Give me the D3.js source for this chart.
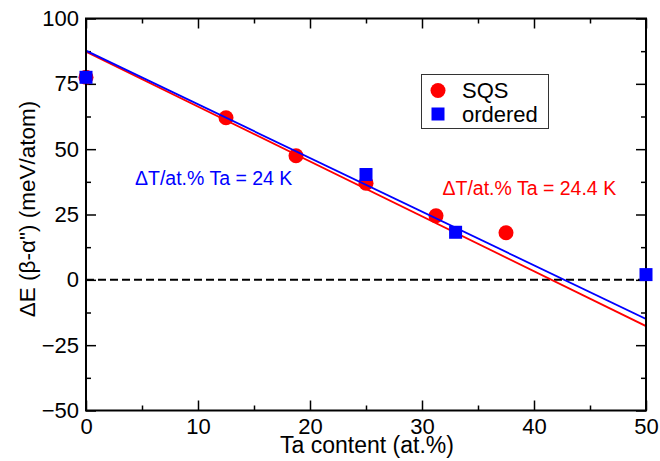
<!DOCTYPE html>
<html>
<head>
<meta charset="utf-8">
<script src="https://cdn.jsdelivr.net/npm/d3@7"></script>
<style>
  html, body { margin: 0; padding: 0; background: #fff; overflow: hidden; }
  svg { display: block; }
  text { font-family: "Liberation Sans", Arial, Helvetica, sans-serif; }
</style>
</head>
<body>
<div id="chart"></div>
<script>
// data
const sqsX = [0, 12.5, 18.75, 25, 31.25, 37.5];
const sqsY = [77.5, 62, 47.5, 37, 24.5, 18];
const orderedX = [0, 25, 33, 50];
const orderedY = [77.5, 40.3, 18.2, 2];
const fitX = [0, 50];
const sqsFit = [87.3, -17.7];
const orderedFit = [87.7, -15.0];
const xTicks = [0, 10, 20, 30, 40, 50];
const yTicks = [-50, -25, 0, 25, 50, 75, 100];

const width = 660, height = 461;
const margin = { top: 18.5, right: 14, bottom: 50.5, left: 86 };
const innerWidth = width - margin.left - margin.right;
const innerHeight = height - margin.top - margin.bottom;

const svg = d3.select("#chart").append("svg")
    .attr("width", width)
    .attr("height", height);

const g = svg.append("g")
    .attr("transform", `translate(${margin.left},${margin.top})`);

const x = d3.scaleLinear().domain([0, 50]).range([0, innerWidth]);
const y = d3.scaleLinear().domain([-50, 100]).range([innerHeight, 0]);

const xMinor = d3.range(5, 50, 10);
const yMinor = d3.range(-37.5, 100, 25);

// axes, ticks pointing inside on all four sides
function styleAxis(sel) {
    sel.select(".domain").remove();
    sel.selectAll("line").attr("stroke", "#000").attr("stroke-width", 1.5);
    sel.selectAll("text")
        .filter(function() { return this.textContent === ""; })
        .remove();
    sel.selectAll("text")
        .attr("fill", "#000")
        .style("font-size", "22px");
}

g.append("g")
    .attr("transform", `translate(0,${innerHeight})`)
    .call(d3.axisBottom(x).tickValues(xTicks).tickSize(-10).tickPadding(8).tickFormat(d3.format("d")))
    .call(styleAxis);
g.append("g")
    .attr("transform", `translate(0,${innerHeight})`)
    .call(d3.axisBottom(x).tickValues(xMinor).tickSize(-5).tickFormat(""))
    .call(styleAxis);
g.append("g")
    .call(d3.axisTop(x).tickValues(xTicks).tickSize(-10).tickFormat(""))
    .call(styleAxis);
g.append("g")
    .call(d3.axisTop(x).tickValues(xMinor).tickSize(-5).tickFormat(""))
    .call(styleAxis);

g.append("g")
    .call(d3.axisLeft(y).tickValues(yTicks).tickSize(-10).tickPadding(7).tickFormat(d3.format("d")))
    .call(styleAxis);
g.append("g")
    .call(d3.axisLeft(y).tickValues(yMinor).tickSize(-5).tickFormat(""))
    .call(styleAxis);
g.append("g")
    .attr("transform", `translate(${innerWidth},0)`)
    .call(d3.axisRight(y).tickValues(yTicks).tickSize(-10).tickFormat(""))
    .call(styleAxis);
g.append("g")
    .attr("transform", `translate(${innerWidth},0)`)
    .call(d3.axisRight(y).tickValues(yMinor).tickSize(-5).tickFormat(""))
    .call(styleAxis);

// zero line
g.append("line")
    .attr("x1", 0).attr("x2", innerWidth)
    .attr("y1", y(0)).attr("y2", y(0))
    .attr("stroke", "#000")
    .attr("stroke-width", 2)
    .attr("stroke-dasharray", "8,4");

// markers
g.selectAll(".sqs")
    .data(sqsX.map((d, i) => [d, sqsY[i]]))
    .enter()
    .append("circle")
    .attr("class", "sqs")
    .attr("cx", d => x(d[0]))
    .attr("cy", d => y(d[1]))
    .attr("r", 7.5)
    .attr("fill", "#ff0000");

const sq = 13;
g.selectAll(".ordered")
    .data(orderedX.map((d, i) => [d, orderedY[i]]))
    .enter()
    .append("rect")
    .attr("class", "ordered")
    .attr("x", d => x(d[0]) - sq / 2)
    .attr("y", d => y(d[1]) - sq / 2)
    .attr("width", sq)
    .attr("height", sq)
    .attr("fill", "#0000ff");

// fit lines
g.append("clipPath").attr("id", "clip")
    .append("rect").attr("width", innerWidth).attr("height", innerHeight);

const line = d3.line().x(d => x(d[0])).y(d => y(d[1]));

g.append("path")
    .datum(fitX.map((d, i) => [d, sqsFit[i]]))
    .attr("d", line)
    .attr("clip-path", "url(#clip)")
    .attr("fill", "none")
    .attr("stroke", "#ff0000")
    .attr("stroke-width", 1.8);

g.append("path")
    .datum(fitX.map((d, i) => [d, orderedFit[i]]))
    .attr("d", line)
    .attr("clip-path", "url(#clip)")
    .attr("fill", "none")
    .attr("stroke", "#0000ff")
    .attr("stroke-width", 1.8);

// frame
g.append("rect")
    .attr("width", innerWidth)
    .attr("height", innerHeight)
    .attr("fill", "none")
    .attr("stroke", "#000")
    .attr("stroke-width", 2);

// markers on the edge sit over the frame
g.selectAll(".ordered").raise();

// legend
const legend = svg.append("g");
legend.append("rect")
    .attr("x", 421.5).attr("y", 74.5)
    .attr("width", 127).attr("height", 54)
    .attr("fill", "#fff")
    .attr("stroke", "#333")
    .attr("stroke-width", 1);
legend.append("circle")
    .attr("cx", 438).attr("cy", 90.5).attr("r", 7.5)
    .attr("fill", "#ff0000");
legend.append("rect")
    .attr("x", 438 - 6.5).attr("y", 114 - 6.5)
    .attr("width", 13).attr("height", 13)
    .attr("fill", "#0000ff");
legend.append("text")
    .attr("x", 462).attr("y", 98)
    .style("font-size", "22px")
    .text("SQS");
legend.append("text")
    .attr("x", 462).attr("y", 122)
    .style("font-size", "22px")
    .text("ordered");

// annotations
svg.append("text")
    .attr("x", 135).attr("y", 185)
    .attr("fill", "#0000ff")
    .style("font-size", "19.5px")
    .text("\u0394T/at.% Ta = 24 K");
svg.append("text")
    .attr("x", 442.5).attr("y", 195)
    .attr("fill", "#ff0000")
    .style("font-size", "19.5px")
    .text("\u0394T/at.% Ta = 24.4 K");

// axis titles
svg.append("text")
    .attr("x", margin.left + innerWidth / 2 + 1)
    .attr("y", 453)
    .attr("text-anchor", "middle")
    .style("font-size", "23px")
    .text("Ta content (at.%)");

svg.append("text")
    .attr("transform", "rotate(-90)")
    .attr("x", -209)
    .attr("y", 35)
    .attr("text-anchor", "middle")
    .style("font-size", "22.5px")
    .text("\u0394E (\u03b2-\u03b1\") (meV/atom)");
</script>
</body>
</html>
